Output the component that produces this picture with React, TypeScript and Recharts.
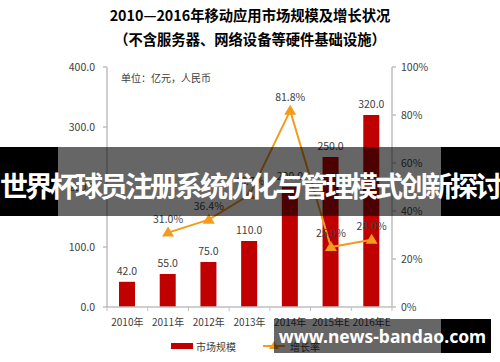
import React from 'react';
import { ComposedChart, Bar, Line, XAxis, YAxis, LabelList, Legend } from 'recharts';

const years = ['2010年', '2011年', '2012年', '2013年', '2014年', '2015年E', '2016年E'];
const marketSize = [42, 55, 75, 110, 200, 250, 320];
const growthRate: (number | null)[] = [null, 31.0, 36.4, 46.7, 81.8, 25.0, 28.0];
const leftTicks = [0, 100, 200, 300, 400];
const rightTicks = [0, 20, 40, 60, 80, 100];

const data = years.map((year, i) => ({ year, size: marketSize[i], growth: growthRate[i] }));

const FONT = '"Noto Sans CJK SC", "Noto Sans", sans-serif';
const RED = '#C00000';
const ORANGE = '#F39B1B';
const AXIS = '#BFBFBF';
const TEXT = '#404040';
const BAND = 285 / 7;

const TriangleDot = (props: any) => {
  const { cx, cy, value } = props;
  if (cx == null || cy == null || value == null) return <g />;
  return <polygon points={`${cx},${cy - 6} ${cx - 6},${cy + 4} ${cx + 6},${cy + 4}`} fill={ORANGE} />;
};

const YearTick = (props: any) => {
  const { x, y, payload, index, visibleTicksCount } = props;
  const axisY = y - 12;
  return (
    <g>
      <line x1={x - BAND / 2} x2={x - BAND / 2} y1={axisY} y2={axisY + 4} stroke={AXIS} />
      {index === visibleTicksCount - 1 && (
        <line x1={x + BAND / 2} x2={x + BAND / 2} y1={axisY} y2={axisY + 4} stroke={AXIS} />
      )}
      <text x={x} y={y} dy="0.71em" textAnchor="middle" fill={TEXT} fontSize={10} fontFamily={FONT}>
        {payload.value}
      </text>
    </g>
  );
};

const LegendContent = () => (
  <div style={{ display: 'flex', alignItems: 'center', fontFamily: FONT, fontSize: 10, color: TEXT, height: 14 }}>
    <span style={{ width: 22, height: 6, background: RED, display: 'inline-block' }} />
    <span style={{ marginLeft: 3 }}>市场规模</span>
    <svg width={22} height={12} style={{ marginLeft: 27 }}>
      <line x1={0} x2={22} y1={6} y2={6} stroke={ORANGE} strokeWidth={2} />
      <polygon points="11,1 6,9 16,9" fill={ORANGE} />
    </svg>
    <span style={{ marginLeft: 5 }}>增长率</span>
  </div>
);

export default function App() {
  return (
    <div style={{ position: 'absolute', left: 0, top: 0, width: 500, height: 362, background: '#fff', overflow: 'hidden' }}>
      <div style={{ position: 'absolute', top: 3, left: 0, width: 500, textAlign: 'center', fontFamily: FONT, fontWeight: 700, fontSize: 14.3, lineHeight: '24px', color: '#000' }}>
        <div>2010—2016年移动应用市场规模及增长状况</div>
        <div>（不含服务器、网络设备等硬件基础设施）</div>
      </div>
      <div style={{ position: 'absolute', top: 70, left: 121, fontFamily: FONT, fontSize: 10, color: TEXT, zIndex: 2 }}>
        单位：亿元，人民币
      </div>
      <ComposedChart width={500} height={362} data={data} margin={{ top: 67, right: 58, bottom: 25, left: 47 }}>
        <XAxis
          dataKey="year"
          height={30}
          stroke={AXIS}
          strokeWidth={1.5}
          tickLine={false}
          tickSize={4}
          tickMargin={8}
          tick={<YearTick />}
          interval={0}
        />
        <YAxis
          yAxisId="left"
          width={60}
          domain={[0, 400]}
          ticks={leftTicks}
          tickFormatter={(v: number) => v.toFixed(1)}
          stroke={AXIS}
          strokeWidth={1.5}
          tickSize={4}
          tickMargin={8}
          tick={{ fill: TEXT, fontSize: 10.5, fontFamily: FONT }}
        />
        <YAxis
          yAxisId="right"
          orientation="right"
          width={50}
          domain={[0, 100]}
          ticks={rightTicks}
          tickFormatter={(v: number) => `${v}%`}
          stroke={AXIS}
          strokeWidth={1.5}
          tickSize={4}
          tickMargin={5}
          tick={{ fill: TEXT, fontSize: 10.5, fontFamily: FONT }}
        />
        <Legend
          verticalAlign="middle"
          align="center"
          layout="horizontal"
          content={<LegendContent />}
          wrapperStyle={{ top: 339, left: 171, width: 220, height: 14 }}
        />
        <Bar yAxisId="left" dataKey="size" fill={RED} barSize={16} isAnimationActive={false}>
          <LabelList
            dataKey="size"
            position="top"
            offset={7}
            formatter={(v: any) => Number(v).toFixed(1)}
            style={{ fill: TEXT, fontSize: 10.5, fontFamily: FONT }}
          />
        </Bar>
        <Line
          yAxisId="right"
          dataKey="growth"
          stroke={ORANGE}
          strokeWidth={2}
          dot={TriangleDot}
          activeDot={false}
          isAnimationActive={false}
        >
          <LabelList
            dataKey="growth"
            position="top"
            offset={10}
            formatter={(v: any) => (v == null ? '' : `${Number(v).toFixed(1)}%`)}
            style={{ fill: TEXT, fontSize: 10.5, fontFamily: FONT }}
          />
        </Line>
      </ComposedChart>
      {/* banner overlay */}
      <div style={{ position: 'absolute', top: 147, height: 69, left: 0, width: 58, background: '#000' }} />
      <div style={{ position: 'absolute', top: 147, height: 69, left: 58, width: 383, background: 'rgba(0,0,0,0.6)' }} />
      <div style={{ position: 'absolute', top: 147, height: 69, left: 441, width: 59, background: '#000' }} />
      <div style={{ position: 'absolute', top: 167, height: 36, left: -10, width: 520, textAlign: 'center', lineHeight: '36px', fontFamily: FONT, fontWeight: 700, fontSize: 28, letterSpacing: -3, color: '#fff', whiteSpace: 'nowrap' }}>
        世界杯球员注册系统优化与管理模式创新探讨
      </div>
      {/* watermark */}
      <div style={{ position: 'absolute', top: 319, height: 34, left: 274, width: 167, background: 'rgba(0,0,0,0.6)' }} />
      <div style={{ position: 'absolute', top: 319, height: 34, left: 441, width: 50, background: '#000' }} />
      <div style={{ position: 'absolute', top: 319, height: 34, left: 274, width: 217, textAlign: 'center', lineHeight: '34px', fontFamily: '"Noto Sans", sans-serif', fontWeight: 700, fontSize: 17.5, color: '#fff', whiteSpace: 'nowrap' }}>
        www.news-bandao.com
      </div>
    </div>
  );
}
